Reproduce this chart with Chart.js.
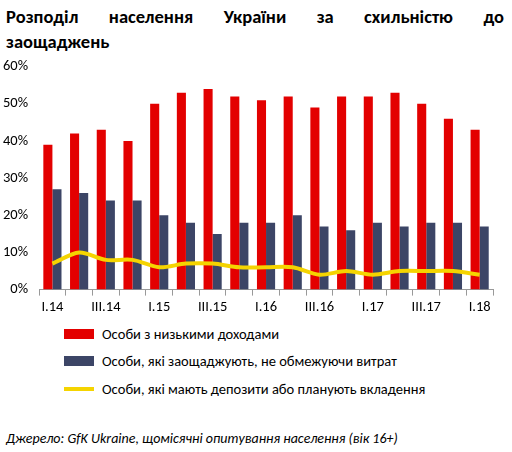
<!DOCTYPE html>
<html lang="uk">
<head>
<meta charset="UTF-8">
<script src="https://cdn.jsdelivr.net/npm/chart.js"></script>
<style>
  body { margin: 0; width: 512px; height: 452px; background: #fff; font-family: Calibri, Carlito, "Liberation Sans", sans-serif; color: #000; overflow: hidden; }
  h1 { margin: 0; position: absolute; left: 6px; top: 4px; width: 498px; font-size: 18.5px; font-weight: bold; line-height: 25px; }
  h1 span { display: block; text-align: justify; text-align-last: justify; }
  #wrap { position: absolute; left: 0; top: 55px; width: 505px; height: 264px; }
  .leg { position: absolute; left: 64px; font-size: 14.5px; display: flex; align-items: center; }
  .sw { width: 30px; height: 10px; margin-right: 8px; }
  .src { position: absolute; left: 6px; top: 430px; font-size: 14px; font-style: italic; }
</style>
</head>
<body>
<h1><span>Розподіл населення України за схильністю до</span>заощаджень</h1>
<div id="wrap"><canvas id="c"></canvas></div>
<div class="leg" style="top:325px"><div class="sw" style="background:#e30000"></div>Особи з низькими доходами</div>
<div class="leg" style="top:352px"><div class="sw" style="background:#3c4566"></div>Особи, які заощаджують, не обмежуючи витрат</div>
<div class="leg" style="top:380px"><div class="sw" style="background:#f5d400;height:4px"></div>Особи, які мають депозити або планують вкладення</div>
<div class="src">Джерело: GfK Ukraine, щомісячні опитування населення (вік 16+)</div>
<script>
const quarters = ["I.14","II.14","III.14","IV.14","I.15","II.15","III.15","IV.15","I.16","II.16","III.16","IV.16","I.17","II.17","III.17","IV.17","I.18"];
const lowIncome = [39,42,43,40,50,53,54,52,51,52,49,52,52,53,50,46,43];
const savers = [27,26,24,24,20,18,15,18,18,20,17,16,18,17,18,18,17];
const depositors = [7,10,8,8,6,7,7,6,6,6,4,5,4,5,5,5,4];
const yTicks = [0,10,20,30,40,50,60];
const font = { size: 14.5, family: "Calibri, Carlito, 'Liberation Sans', sans-serif" };

new Chart(document.getElementById("c"), {
  type: "bar",
  data: {
    labels: quarters,
    datasets: [
      { type: "line", data: depositors, borderColor: "#f5d400", borderWidth: 4, pointRadius: 0, tension: 0.3, order: 0 },
      { data: lowIncome, backgroundColor: "#e30000", order: 1 },
      { data: savers, backgroundColor: "#3c4566", order: 1 }
    ]
  },
  options: {
    responsive: true,
    maintainAspectRatio: false,
    animation: false,
    layout: { padding: { right: 12 } },
    datasets: { bar: { categoryPercentage: 0.68, barPercentage: 1 } },
    plugins: { legend: { display: false }, tooltip: { enabled: false } },
    scales: {
      x: {
        grid: { display: true, drawOnChartArea: false, offset: true, color: "#999", tickLength: 6 },
        border: { color: "#999" },
        ticks: { autoSkip: false, maxRotation: 0, color: "#000", font,
          callback: (v, i) => i % 2 === 0 ? quarters[i] : "" }
      },
      y: {
        min: 0, max: 60,
        afterBuildTicks: s => { s.ticks = yTicks.map(v => ({ value: v })); },
        grid: { display: false },
        border: { display: false },
        ticks: { color: "#000", font, callback: v => v + "%" }
      }
    }
  }
});
</script>
</body>
</html>
